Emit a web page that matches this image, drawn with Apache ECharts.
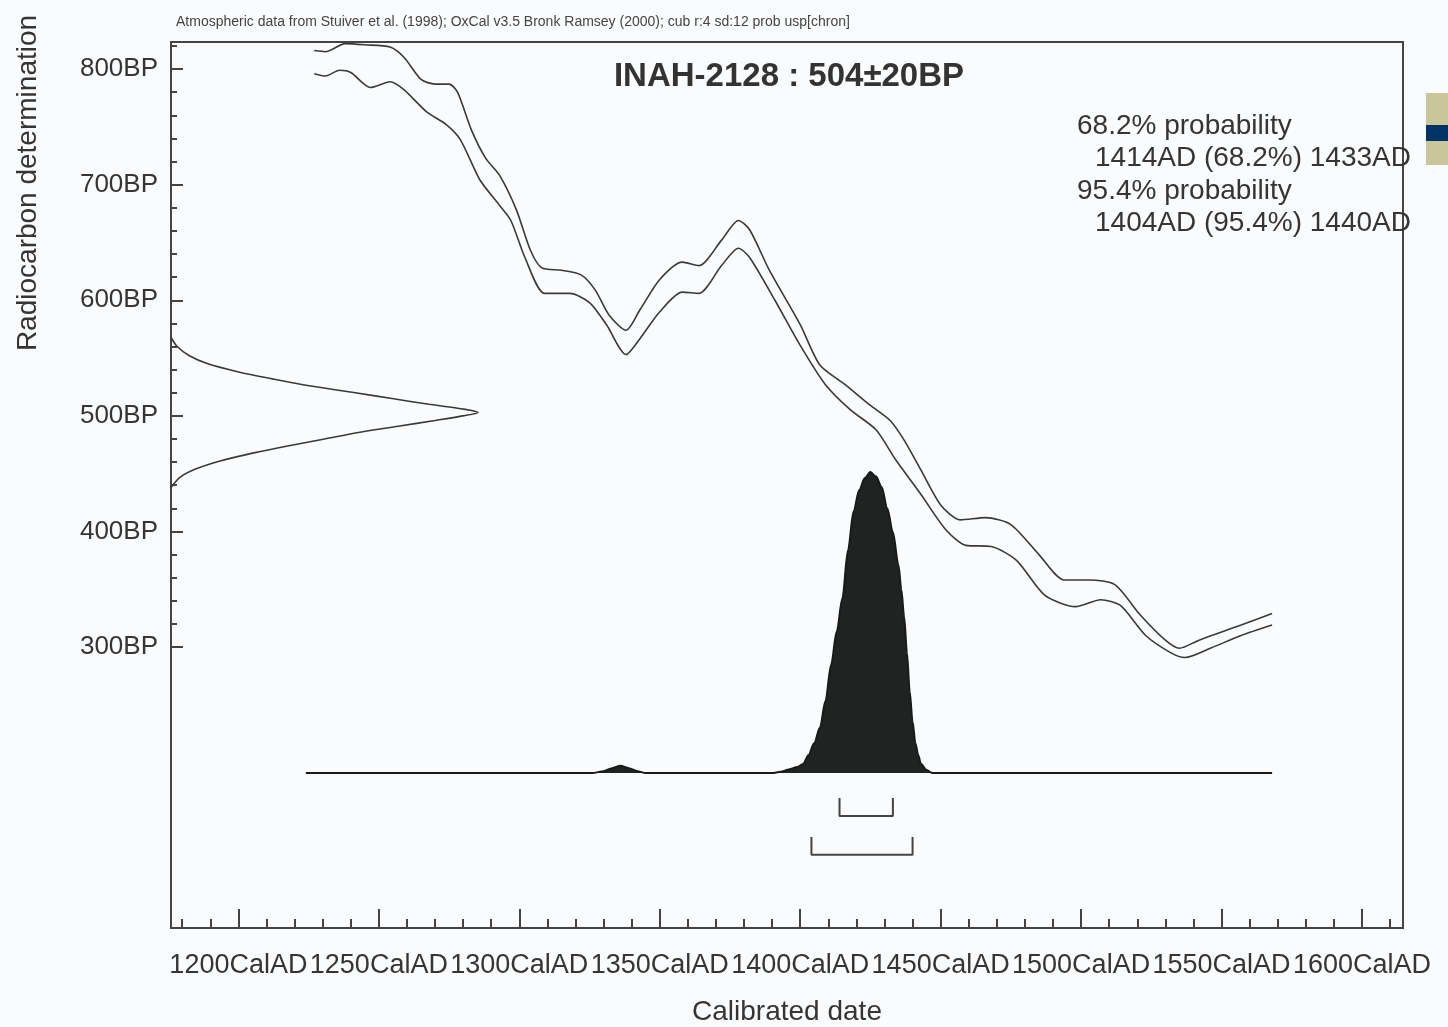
<!DOCTYPE html>
<html><head><meta charset="utf-8">
<script src="https://cdn.jsdelivr.net/npm/echarts@6/dist/echarts.min.js"></script>
<style>html,body{margin:0;padding:0;background:#fafbfc;} #c{width:1448px;height:1027px;}</style>
</head><body><div id="c"></div>
<script>
// ---- data ----
const xMajorTicks = [1200,1250,1300,1350,1400,1450,1500,1550,1600];
const xMinorTicks = [1180,1190,1200,1210,1220,1230,1240,1250,1260,1270,1280,1290,1300,1310,1320,1330,1340,1350,1360,1370,1380,1390,1400,1410,1420,1430,1440,1450,1460,1470,1480,1490,1500,1510,1520,1530,1540,1550,1560,1570,1580,1590,1600,1610];
const yMajorTicks = [300,400,500,600,700,800];
const yMinorTicks = [300,320,340,360,380,400,420,440,460,480,500,520,540,560,580,600,620,640,660,680,700,720,740,760,780,800,820];

const calYearsUpper = [1227,1231,1238,1245,1254,1259,1265,1270,1275,1278,1283,1288,1293,1299,1304,1308,1315,1322,1327,1332,1338,1343,1350,1358,1364,1372,1378,1382,1389,1400,1407,1416,1425,1432,1437,1443,1450,1457,1466,1475,1485,1494,1503,1512,1521,1530,1535,1542,1557,1568];
const calBPUpper    = [816,815,822,821,819,810,791,787,787,780,747,723,708,678,643,628,626,622,609,587,574,592,618,633,630,652,669,661,626,579,544,527,509,496,479,453,423,410,412,406,380,358,358,354,328,306,299,306,319,329];
const calYearsLower = [1227,1231,1236,1240,1247,1254,1259,1267,1274,1279,1286,1293,1297,1302,1309,1318,1325,1331,1338,1343,1350,1358,1364,1372,1378,1382,1391,1400,1409,1418,1427,1434,1443,1452,1459,1468,1477,1487,1498,1507,1514,1523,1532,1537,1546,1557,1568];
const calBPLower    = [796,794,799,797,784,789,782,763,752,739,704,682,669,637,606,606,598,579,553,567,590,607,606,630,645,637,600,561,527,505,488,462,432,401,388,387,375,345,335,341,336,310,295,291,299,310,319];

const gaussBP   = [568,560,552,545,538,532,526,520,515,510,506,503,500,496,491,486,480,474,468,461,454,447,438];
const gaussProb = [0,0.02,0.06,0.12,0.22,0.33,0.45,0.60,0.72,0.84,0.95,1.0,0.95,0.86,0.74,0.62,0.50,0.38,0.27,0.16,0.08,0.03,0];

const postYears = [1224,1326,1330,1333,1336,1339,1342,1345,1390,1393,1396,1399,1401,1403,1405,1407,1409,1411,1413,1415,1417,1419,1421,1423,1425,1427,1429,1431,1433,1435,1436,1437,1438,1439,1440,1441,1442,1443,1445,1447,1568];
const postProb  = [0,0,0.006,0.016,0.024,0.016,0.006,0,0,0.004,0.012,0.02,0.03,0.06,0.10,0.15,0.24,0.36,0.47,0.58,0.74,0.87,0.94,0.98,1.0,0.985,0.95,0.88,0.80,0.69,0.61,0.52,0.40,0.27,0.17,0.10,0.06,0.03,0.01,0,0];

const range68 = [1414, 1433];
const range95 = [1404, 1440];

const titleText = 'INAH-2128 : 504\u00b120BP';
const noteText = 'Atmospheric data from Stuiver et al. (1998); OxCal v3.5 Bronk Ramsey (2000); cub r:4 sd:12 prob usp[chron]';
const probLines = ['68.2% probability', '1414AD (68.2%) 1433AD', '95.4% probability', '1404AD (95.4%) 1440AD'];

// ---- build ----
const FONT = 'Liberation Sans, Arial, sans-serif';
const TXT = '#353535';
const LINE = '#3a3a3a';
const zip = (a, b) => a.map((v, i) => [v, b[i]]);
const bracket = (r, top, bot) => [[r[0], top], [r[0], bot], [r[1], bot], [r[1], top]];

const X_MIN = 1176, X_MAX = 1614.6, Y_MIN = 57, Y_MAX = 823.4;
const noLine = {show: false, onZero: false};

const chart = echarts.init(document.getElementById('c'), null, {renderer: 'canvas'});
chart.setOption({
  animation: false,
  backgroundColor: '#fafbfc',
  grid: {left: 171, right: 45, top: 42, bottom: 99, show: true, borderColor: '#444', borderWidth: 2,
         backgroundColor: 'transparent', containLabel: false, outerBoundsMode: 'none'},
  xAxis: [
    {type: 'value', min: X_MIN, max: X_MAX, position: 'bottom',
     axisLine: noLine, splitLine: {show: false},
     axisTick: {show: true, inside: true, length: 9, customValues: xMinorTicks, lineStyle: {color: '#444', width: 2}},
     axisLabel: {customValues: xMajorTicks, formatter: v => v + 'CalAD', fontSize: 27, fontFamily: FONT, color: TXT, margin: 24,
                 showMinLabel: true, showMaxLabel: true, hideOverlap: false},
     name: 'Calibrated date', nameLocation: 'middle', nameGap: 70,
     nameTextStyle: {fontSize: 28, fontFamily: FONT, color: TXT}},
    {type: 'value', min: 0, max: 4.013, show: false, axisLine: noLine},
    {type: 'value', min: X_MIN, max: X_MAX, position: 'bottom',
     axisLine: noLine, splitLine: {show: false}, axisLabel: {show: false},
     axisTick: {show: true, inside: true, length: 19, customValues: xMajorTicks, lineStyle: {color: '#444', width: 2}}}
  ],
  yAxis: [
    {type: 'value', min: Y_MIN, max: Y_MAX, position: 'left',
     axisLine: noLine, splitLine: {show: false},
     axisTick: {show: true, inside: true, length: 6, customValues: yMinorTicks, lineStyle: {color: '#444', width: 2}},
     axisLabel: {customValues: yMajorTicks, formatter: v => v + 'BP', fontSize: 26, fontFamily: FONT, color: TXT, margin: 13,
                 showMinLabel: true, showMaxLabel: true}},
    {type: 'value', min: -0.515, max: 2.429, show: false, axisLine: noLine},
    {type: 'value', min: Y_MIN, max: Y_MAX, position: 'left',
     axisLine: noLine, splitLine: {show: false}, axisLabel: {show: false},
     axisTick: {show: true, inside: true, length: 12, customValues: yMajorTicks, lineStyle: {color: '#444', width: 2}}}
  ],
  series: [
    {type: 'line', name: 'cal upper', xAxisIndex: 0, yAxisIndex: 0, data: zip(calYearsUpper, calBPUpper),
     showSymbol: false, smooth: 0.25, lineStyle: {color: LINE, width: 1.6}},
    {type: 'line', name: 'cal lower', xAxisIndex: 0, yAxisIndex: 0, data: zip(calYearsLower, calBPLower),
     showSymbol: false, smooth: 0.25, lineStyle: {color: LINE, width: 1.6}},
    {type: 'line', name: 'measurement', xAxisIndex: 1, yAxisIndex: 0, data: zip(gaussProb, gaussBP),
     showSymbol: false, smooth: 0.3, lineStyle: {color: LINE, width: 1.6}},
    {type: 'line', name: 'posterior', xAxisIndex: 0, yAxisIndex: 1, data: zip(postYears, postProb),
     showSymbol: false, smooth: 0.3, smoothMonotone: 'x',
     lineStyle: {color: '#1a1a1a', width: 2}, areaStyle: {color: '#1f2321', opacity: 1, origin: 0}},
    {type: 'line', name: '68.2%', xAxisIndex: 0, yAxisIndex: 1, data: bracket(range68, -0.083, -0.143),
     showSymbol: false, lineStyle: {color: '#444', width: 2}},
    {type: 'line', name: '95.4%', xAxisIndex: 0, yAxisIndex: 1, data: bracket(range95, -0.213, -0.272),
     showSymbol: false, lineStyle: {color: '#444', width: 2}}
  ],
  graphic: [
    {type: 'text', x: 789, y: 77, style: {text: titleText, fontSize: 33, fontWeight: 'bold', fontFamily: FONT, fill: '#333', align: 'center', verticalAlign: 'middle'}},
    {type: 'text', x: 176, y: 22, style: {text: noteText, fontSize: 14, fontFamily: FONT, fill: '#444', align: 'left', verticalAlign: 'middle'}},
    {type: 'text', x: 1077, y: 126, style: {text: probLines[0], fontSize: 28, fontFamily: FONT, fill: TXT, align: 'left', verticalAlign: 'middle'}},
    {type: 'text', x: 1095, y: 158, style: {text: probLines[1], fontSize: 28, fontFamily: FONT, fill: TXT, align: 'left', verticalAlign: 'middle'}},
    {type: 'text', x: 1077, y: 191, style: {text: probLines[2], fontSize: 28, fontFamily: FONT, fill: TXT, align: 'left', verticalAlign: 'middle'}},
    {type: 'text', x: 1095, y: 223, style: {text: probLines[3], fontSize: 28, fontFamily: FONT, fill: TXT, align: 'left', verticalAlign: 'middle'}},
    {type: 'text', x: 28, y: 183, rotation: Math.PI / 2, style: {text: 'Radiocarbon determination', fontSize: 28, fontFamily: FONT, fill: TXT, align: 'center', verticalAlign: 'middle'}},
    {type: 'rect', shape: {x: 1426, y: 93, width: 22, height: 72}, style: {fill: '#c9c69b'}},
    {type: 'rect', shape: {x: 1426, y: 125, width: 22, height: 16}, style: {fill: '#003366'}}
  ]
});
</script>
</body></html>
